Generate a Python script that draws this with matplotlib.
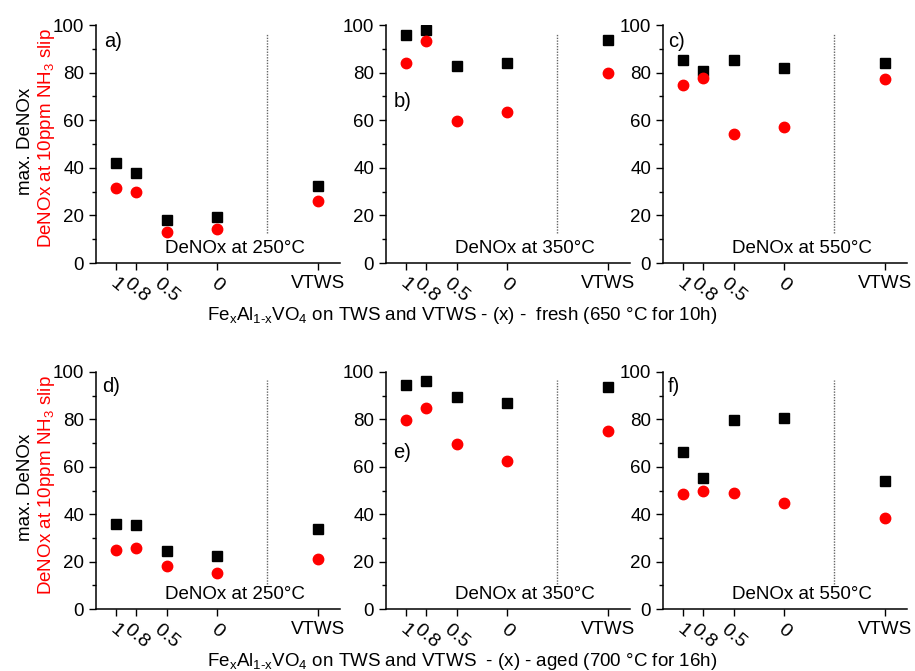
import matplotlib
matplotlib.use("Agg")
import matplotlib.pyplot as plt
from matplotlib.ticker import MultipleLocator

plt.rcParams['font.family'] = ['Liberation Sans', 'DejaVu Sans']
plt.rcParams['mathtext.fontset'] = 'custom'
plt.rcParams['mathtext.rm'] = 'Liberation Sans'
plt.rcParams['mathtext.it'] = 'Liberation Sans'
plt.rcParams['mathtext.default'] = 'regular'

# x = Fe fraction, VTWS reference placed at x = -1
xs = [1, 0.8, 0.5, 0, -1]
xlabels = ['1', '0.8', '0.5', '0', 'VTWS']
temps = ['250', '350', '550']

# max. DeNOx (black squares) / DeNOx at 10ppm NH3 slip (red circles)
fresh_max = [[42.0, 38.0, 18.2, 19.4, 32.3],
             [95.6, 97.8, 82.7, 84.0, 93.6],
             [85.4, 80.6, 85.1, 82.0, 84.0]]
fresh_slip = [[31.7, 29.8, 12.9, 14.1, 26.0],
              [84.1, 93.2, 59.7, 63.5, 79.9],
              [74.6, 77.9, 54.1, 57.2, 77.3]]
aged_max = [[35.8, 35.3, 24.4, 22.4, 33.9],
            [94.7, 96.2, 89.6, 87.1, 93.7],
            [66.2, 55.4, 79.8, 80.5, 54.1]]
aged_slip = [[25.1, 25.7, 18.1, 15.1, 21.2],
             [79.7, 84.6, 69.6, 62.3, 75.0],
             [48.7, 49.9, 48.9, 44.6, 38.3]]

panel_tags = [['a)', 'b)', 'c)'], ['d)', 'e)', 'f)']]
tag_pos = [[(0.035, 0.97), (0.03, 0.72), (0.02, 0.97)],
           [(0.025, 0.98), (0.03, 0.70), (0.02, 0.98)]]

fs = 13.5
fig = plt.figure(figsize=(9.15, 6.71), dpi=100)

lefts = [96 / 915, 386 / 915, 663 / 915]
width = 244 / 915
rows = [(1 - 263 / 671, 238 / 671), (1 - 609 / 671, 237 / 671)]
vline_lo = [12.5, 10.5]

for r, (maxv, slipv) in enumerate([(fresh_max, fresh_slip), (aged_max, aged_slip)]):
    bottom, height = rows[r]
    for c in range(3):
        ax = fig.add_axes([lefts[c], bottom, width, height])
        ax.plot(xs, maxv[c], 's', color='black', ms=6.8, ls='none')
        ax.plot(xs, slipv[c], 'o', color='#ff0000', ms=7.5, ls='none')
        ax.vlines(-0.5, vline_lo[r], 96.8, colors='#666666', linestyles=(0, (1, 1)), lw=1.0)
        ax.set_xlim(1.2, -1.22)
        ax.set_ylim(0, 100)
        ax.spines['top'].set_visible(False)
        ax.spines['right'].set_visible(False)
        for s in ['left', 'bottom']:
            ax.spines[s].set_linewidth(1.1)
        ax.yaxis.set_major_locator(MultipleLocator(20))
        ax.yaxis.set_minor_locator(MultipleLocator(10))
        ax.tick_params(axis='both', which='major', direction='out', length=5, width=1.0, labelsize=fs)
        ax.tick_params(axis='y', which='minor', direction='out', length=3, width=1.0)
        ax.set_xticks(xs)
        ax.set_xticklabels(xlabels)
        for lbl in ax.get_xticklabels()[:4]:
            lbl.set_rotation(-40)
            lbl.set_ha('center')
            lbl.set_fontsize(fs + 0.5)
        ax.text(-0.18, 2.5, 'DeNOx at ' + temps[c] + '°C', ha='center', va='bottom', fontsize=fs)
        tx, ty = tag_pos[r][c]
        ax.text(tx, ty, panel_tags[r][c], transform=ax.transAxes, ha='left', va='top', fontsize=fs + 1)

    ymid = bottom + height / 2
    fig.text(0.028, ymid + 0.004, 'max. DeNOx', rotation=90, ha='center', va='center', fontsize=fs)
    fig.text(0.051, ymid + 0.008, 'DeNOx at 10ppm NH$_3$ slip', rotation=90, ha='center', va='center',
             fontsize=fs, color='#ff0000')

sub = 'Fe$_x$Al$_{1\u2010x}$VO$_4$'
fig.text(0.505, 1 - 315 / 671, sub + ' on TWS and VTWS - (x) -  fresh (650 °C for 10h)',
         ha='center', va='center', fontsize=fs)
fig.text(0.505, 1 - 661 / 671, sub + ' on TWS and VTWS  - (x) - aged (700 °C for 16h)',
         ha='center', va='center', fontsize=fs)

fig.savefig('out.png', dpi=100)
